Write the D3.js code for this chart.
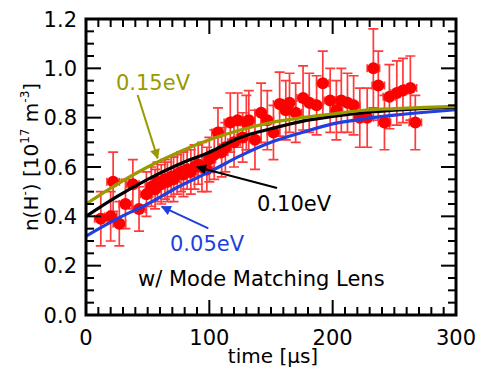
<!DOCTYPE html>
<html>
<head>
<meta charset="utf-8">
<script src="https://cdn.jsdelivr.net/npm/d3@7"></script>
<style>
  body { margin: 0; background: #fff; }
  svg { display: block; }
  text { font-family: "DejaVu Sans", "Noto Sans", sans-serif; }
</style>
</head>
<body>
<svg id="chart"></svg>
<script>
// measured points: time [us], density [1e17 m^-3], error
const times = [12, 20, 22, 27, 32, 38, 43, 49, 53, 56, 58, 61, 64, 66, 69, 71, 74, 77, 79, 82,
  85, 88, 91, 94, 98, 100, 104, 107, 110, 113, 117, 120, 123, 127, 130, 132, 137, 142, 147, 152,
  157, 162, 165, 170, 176, 181, 187, 192, 198, 203, 207, 212, 217, 222, 228, 233, 237, 242, 246, 252,
  257, 263, 267];
const dens = [0.39, 0.40, 0.54, 0.37, 0.45, 0.53, 0.43, 0.49, 0.52, 0.51, 0.54, 0.53, 0.55, 0.54, 0.56, 0.55, 0.57, 0.58, 0.57, 0.59,
  0.58, 0.60, 0.61, 0.60, 0.59, 0.63, 0.65, 0.74, 0.66, 0.68, 0.78, 0.70, 0.79, 0.72, 0.78, 0.79, 0.71, 0.82, 0.79, 0.74,
  0.855, 0.83, 0.86, 0.82, 0.88, 0.86, 0.85, 0.94, 0.87, 0.83, 0.87, 0.86, 0.85, 0.80, 0.80, 1.00, 0.93, 0.78, 0.885, 0.90,
  0.91, 0.92, 0.78];
const errs = [0.11, 0.10, 0.12, 0.09, 0.10, 0.10, 0.09, 0.09, 0.08, 0.08, 0.08, 0.08, 0.08, 0.08, 0.08, 0.09, 0.08, 0.08, 0.09, 0.08,
  0.09, 0.09, 0.08, 0.10, 0.09, 0.09, 0.10, 0.10, 0.10, 0.10, 0.12, 0.10, 0.11, 0.10, 0.11, 0.12, 0.12, 0.12, 0.12, 0.11,
  0.13, 0.12, 0.12, 0.12, 0.13, 0.12, 0.12, 0.13, 0.13, 0.12, 0.13, 0.12, 0.12, 0.12, 0.12, 0.16, 0.14, 0.11, 0.13, 0.13,
  0.13, 0.13, 0.11];
const timeErr = 5;

const curveT = [0, 25, 50, 75, 100, 125, 150, 175, 200, 225, 250, 275, 300];
const fit015 = [0.45, 0.53, 0.60, 0.66, 0.71, 0.75, 0.78, 0.80, 0.815, 0.83, 0.837, 0.842, 0.846];
const fit010 = [0.40, 0.48, 0.55, 0.61, 0.66, 0.72, 0.755, 0.785, 0.805, 0.82, 0.83, 0.838, 0.843];
const fit005 = [0.32, 0.39, 0.45, 0.52, 0.58, 0.645, 0.70, 0.74, 0.775, 0.795, 0.81, 0.822, 0.832];

const xTicks = [0, 100, 200, 300];
const yTicks = [0.0, 0.2, 0.4, 0.6, 0.8, 1.0, 1.2];

const W = 478, H = 367;
const margin = { left: 86, right: 22, top: 19, bottom: 52 };

const svg = d3.select("#chart").attr("width", W).attr("height", H);

const x = d3.scaleLinear().domain([0, 300]).range([margin.left, W - margin.right]);
const y = d3.scaleLinear().domain([0, 1.2]).range([H - margin.bottom, margin.top]);

const red = "#ff0000", errRed = "#ff3a3a";
const olive = "#9a9a00", blue = "#1f3fe0";

// arrow heads
const defs = svg.append("defs");
[["olive", olive], ["black", "#000"], ["blue", blue]].forEach(([id, c]) => {
  defs.append("marker")
    .attr("id", "arr-" + id)
    .attr("viewBox", "0 0 10 10")
    .attr("refX", 9).attr("refY", 5)
    .attr("markerWidth", 6).attr("markerHeight", 5)
    .attr("markerUnits", "strokeWidth")
    .attr("orient", "auto")
    .append("path").attr("d", "M0,0L10,5L0,10Z").attr("fill", c);
});

// error bars + points
const pts = times.map((t, i) => ({ t: t, v: dens[i], e: errs[i] }));
const eb = svg.append("g").attr("stroke", errRed).attr("stroke-width", 1.7).attr("fill", "none");
const cap = 5;
pts.forEach(d => {
  const cx = x(d.t), cy = y(d.v), yt = y(d.v + d.e), yb = y(d.v - d.e);
  const xl = x(d.t - timeErr), xr = x(d.t + timeErr);
  eb.append("path").attr("d",
    `M${cx},${yt}V${yb}M${cx - cap},${yt}H${cx + cap}M${cx - cap},${yb}H${cx + cap}` +
    `M${xl},${cy}H${xr}M${xl},${cy - 4}V${cy + 4}M${xr},${cy - 4}V${cy + 4}`);
});
svg.append("g").selectAll("circle").data(pts).join("circle")
  .attr("cx", d => x(d.t)).attr("cy", d => y(d.v)).attr("r", 6)
  .attr("fill", red);

// fitted curves
const line = d3.line().x(d => x(d[0])).y(d => y(d[1])).curve(d3.curveMonotoneX);
[[fit005, blue], [fit010, "#000"], [fit015, olive]].forEach(([vals, c]) => {
  svg.append("path")
    .attr("d", line(curveT.map((t, i) => [t, vals[i]])))
    .attr("fill", "none").attr("stroke", c).attr("stroke-width", 3.2);
});

// annotations (data units)
function arrow(t0, v0, t1, v1, c, id) {
  svg.append("line")
    .attr("x1", x(t0)).attr("y1", y(v0)).attr("x2", x(t1)).attr("y2", y(v1))
    .attr("stroke", c).attr("stroke-width", 2)
    .attr("marker-end", `url(#arr-${id})`);
}
function label(t, v, s, c) {
  svg.append("text").attr("x", x(t)).attr("y", y(v))
    .attr("fill", c).attr("font-size", 21).text(s);
}
label(24.3, 0.912, "0.15eV", olive);
arrow(41.9, 0.892, 58.1, 0.635, olive, "olive");
label(138.7, 0.42, "0.10eV", "#000");
arrow(154.9, 0.515, 90, 0.60, "#000", "black");
label(68.1, 0.26, "0.05eV", blue);
arrow(99.2, 0.351, 61.4, 0.439, blue, "blue");
label(42.2, 0.118, "w/ Mode Matching Lens", "#000");

// frame + inward ticks
const g = svg.append("g").attr("stroke", "#000").attr("stroke-width", 2);
const x0 = x(0), x1 = x(300), y0 = y(0), y1 = y(1.2);
const majL = 15, minL = 8;
d3.range(0, 301, 10).forEach(t => {
  const L = t % 100 === 0 ? majL : minL;
  g.append("line").attr("x1", x(t)).attr("x2", x(t)).attr("y1", y0).attr("y2", y0 - L);
  g.append("line").attr("x1", x(t)).attr("x2", x(t)).attr("y1", y1).attr("y2", y1 + L);
});
d3.range(0, 25).forEach(k => {
  const v = k * 0.05;
  const L = k % 4 === 0 ? majL : minL;
  g.append("line").attr("y1", y(v)).attr("y2", y(v)).attr("x1", x0).attr("x2", x0 + L);
  g.append("line").attr("y1", y(v)).attr("y2", y(v)).attr("x1", x1).attr("x2", x1 - L);
});
svg.append("rect").attr("x", x0).attr("y", y1).attr("width", x1 - x0).attr("height", y0 - y1)
  .attr("fill", "none").attr("stroke", "#000").attr("stroke-width", 3);

// tick labels
svg.append("g").selectAll("text").data(xTicks).join("text")
  .attr("x", d => x(d)).attr("y", y0 + 30).attr("text-anchor", "middle")
  .attr("font-size", 21).text(d => d);
svg.append("g").selectAll("text").data(yTicks).join("text")
  .attr("x", x0 - 9).attr("y", d => y(d) + 7.5).attr("text-anchor", "end")
  .attr("font-size", 21).text(d => d.toFixed(1));

// axis titles
svg.append("text").attr("x", (x0 + x1) / 2 + 2).attr("y", H - 4).attr("text-anchor", "middle")
  .attr("font-size", 20).text("time [μs]");

const yl = svg.append("text")
  .attr("transform", `translate(38,${157}) rotate(-90)`)
  .attr("text-anchor", "middle").attr("font-size", 20);
yl.append("tspan").text("n(H");
yl.append("tspan").attr("font-size", 12).attr("dy", -9).text("-");
yl.append("tspan").attr("dy", 9).text(") [10");
yl.append("tspan").attr("font-size", 12).attr("dy", -9).text("17");
yl.append("tspan").attr("dy", 9).text(" m");
yl.append("tspan").attr("font-size", 12).attr("dy", -9).text("-3");
yl.append("tspan").attr("dy", 9).text("]");
</script>
</body>
</html>
